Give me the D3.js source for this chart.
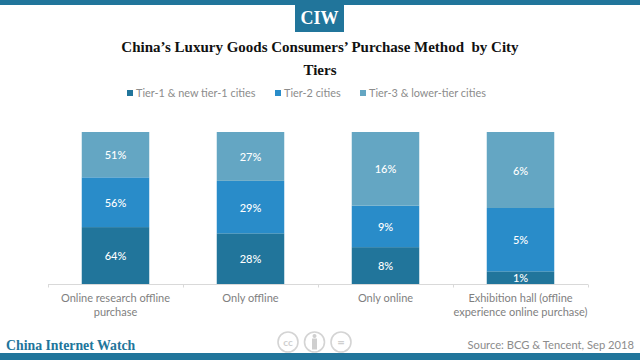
<!DOCTYPE html>
<html>
<head>
<meta charset="utf-8">
<script src="https://cdn.jsdelivr.net/npm/d3@7"></script>
<style>
html, body { margin: 0; padding: 0; background: #fff; }
svg { display: block; }
</style>
</head>
<body>
<div id="my_dataviz"></div>
<script>
var categories = [
  ["Online research offline", "purchase"],
  ["Only offline"],
  ["Only online"],
  ["Exhibition hall (offline", "experience online purchase)"]
];
var seriesNames = ["Tier-1 & new tier-1 cities", "Tier-2 cities", "Tier-3 & lower-tier cities"];
var tier1 = [64, 28, 8, 1];
var tier2 = [56, 29, 9, 5];
var tier3 = [51, 27, 16, 6];
var seriesColors = ["#21759b", "#298cc9", "#64a6c3"];

var width = 640, height = 360;
var labelFont = "Lato, sans-serif";
var titleFont = "'Liberation Serif', serif";

var svg = d3.select("#my_dataviz")
  .append("svg")
  .attr("width", width)
  .attr("height", height);

// header and footer bands
svg.append("rect").attr("x", 0).attr("y", 0).attr("width", width).attr("height", 5).attr("fill", "#21759b");
svg.append("rect").attr("x", 0).attr("y", 353).attr("width", width).attr("height", 7).attr("fill", "#21759b");
svg.append("rect").attr("x", 295).attr("y", 0).attr("width", 49).attr("height", 32).attr("fill", "#21759b");
svg.append("text").attr("x", 319.5).attr("y", 24)
  .attr("text-anchor", "middle").attr("fill", "#fff")
  .style("font", "bold 18px " + titleFont)
  .text("CIW");

// title
var titleLines = ["China\u2019s Luxury Goods Consumers\u2019 Purchase Method  by City", "Tiers"];
svg.append("g").selectAll("text")
  .data(titleLines)
  .enter().append("text")
  .attr("x", 320)
  .attr("y", function (d, i) { return 52 + i * 23; })
  .attr("text-anchor", "middle")
  .attr("fill", "#111")
  .style("font", "bold 15px " + titleFont)
  .style("white-space", "pre")
  .text(function (d) { return d; });

// legend
var legendX = [127, 275, 360];
var legend = svg.append("g").selectAll("g")
  .data(seriesNames)
  .enter().append("g")
  .attr("transform", function (d, i) { return "translate(" + legendX[i] + ",0)"; });
legend.append("rect")
  .attr("y", 90)
  .attr("width", 6).attr("height", 6)
  .attr("fill", function (d, i) { return seriesColors[i]; });
legend.append("text")
  .attr("x", 9).attr("y", 97)
  .attr("fill", "#8c8c8c")
  .style("font", "10.9px " + labelFont)
  .text(function (d) { return d; });

// stacked bars
var rows = categories.map(function (c, i) {
  return { index: i, a: tier1[i], b: tier2[i], c: tier3[i] };
});
var stack = d3.stack().keys(["a", "b", "c"]).offset(d3.stackOffsetExpand);
var stacked = stack(rows);

var x = d3.scaleBand().domain(d3.range(categories.length)).range([48, 588]).paddingInner(0.5).paddingOuter(0.25);
var y = d3.scaleLinear().domain([0, 1]).range([284, 132]);

var groups = svg.append("g").selectAll("g")
  .data(stacked)
  .enter().append("g")
  .attr("fill", function (d, i) { return seriesColors[i]; });

groups.selectAll("rect")
  .data(function (d) { return d; })
  .enter().append("rect")
  .attr("x", function (d) { return x(d.data.index); })
  .attr("width", x.bandwidth())
  .attr("y", function (d) { return y(d[1]); })
  .attr("height", function (d) { return y(d[0]) - y(d[1]); });

groups.selectAll("text")
  .data(function (d) { return d.map(function (p) { return { p: p, key: d.key }; }); })
  .enter().append("text")
  .attr("x", function (d) { return x(d.p.data.index) + x.bandwidth() / 2; })
  .attr("y", function (d) { return (y(d.p[0]) + y(d.p[1])) / 2 + 4.5; })
  .attr("text-anchor", "middle")
  .attr("fill", "#fff")
  .style("font", "500 11px " + labelFont)
  .text(function (d) { return d.p.data[d.key] + "%"; });

// x axis
var axis = svg.append("g").attr("transform", "translate(0,284.5)");
axis.append("line").attr("x1", 48).attr("x2", 588).attr("stroke", "#d9d9d9");
var step = x.step();
axis.selectAll(".tick")
  .data(d3.range(categories.length + 1))
  .enter().append("line")
  .attr("class", "tick")
  .attr("x1", function (d) { return 48.5 + d * step; })
  .attr("x2", function (d) { return 48.5 + d * step; })
  .attr("y1", 0).attr("y2", 3)
  .attr("stroke", "#d9d9d9");

var catLabels = svg.append("g").selectAll("text")
  .data(categories)
  .enter().append("text")
  .attr("text-anchor", "middle")
  .attr("fill", "#7f7f7f")
  .style("font", "11px " + labelFont);
catLabels.selectAll("tspan")
  .data(function (d, i) { return d.map(function (s) { return { s: s, i: i }; }); })
  .enter().append("tspan")
  .attr("x", function (d) { return x(d.i) + x.bandwidth() / 2; })
  .attr("y", function (d, j) { return 302 + j * 14; })
  .text(function (d) { return d.s; });

// footer text
svg.append("text").attr("x", 6).attr("y", 350)
  .attr("fill", "#21759b")
  .style("font", "bold 13.8px " + titleFont)
  .text("China Internet Watch");
svg.append("text").attr("x", 634).attr("y", 349)
  .attr("text-anchor", "end").attr("fill", "#8c8c8c")
  .style("font", "400 11.2px " + labelFont)
  .text("Source: BCG & Tencent, Sep 2018");

// cc badges
var badges = svg.append("g").attr("fill", "none").attr("stroke", "#d4d4d4").attr("stroke-width", 1.6);
badges.append("circle").attr("cx", 288).attr("cy", 342).attr("r", 10);
badges.append("circle").attr("cx", 314.5).attr("cy", 342).attr("r", 10);
badges.append("circle").attr("cx", 341).attr("cy", 342).attr("r", 10);
svg.append("text").attr("x", 288).attr("y", 346).attr("text-anchor", "middle")
  .attr("fill", "#cfcfcf").style("font", "bold 10px " + labelFont).text("cc");
svg.append("text").attr("x", 341).attr("y", 346.5).attr("text-anchor", "middle")
  .attr("fill", "#cfcfcf").style("font", "bold 13px " + labelFont).text("=");
svg.append("circle").attr("cx", 314.5).attr("cy", 336).attr("r", 2).attr("fill", "#cfcfcf");
svg.append("rect").attr("x", 312).attr("y", 338.5).attr("width", 5).attr("height", 11).attr("fill", "#cfcfcf");
</script>
</body>
</html>
